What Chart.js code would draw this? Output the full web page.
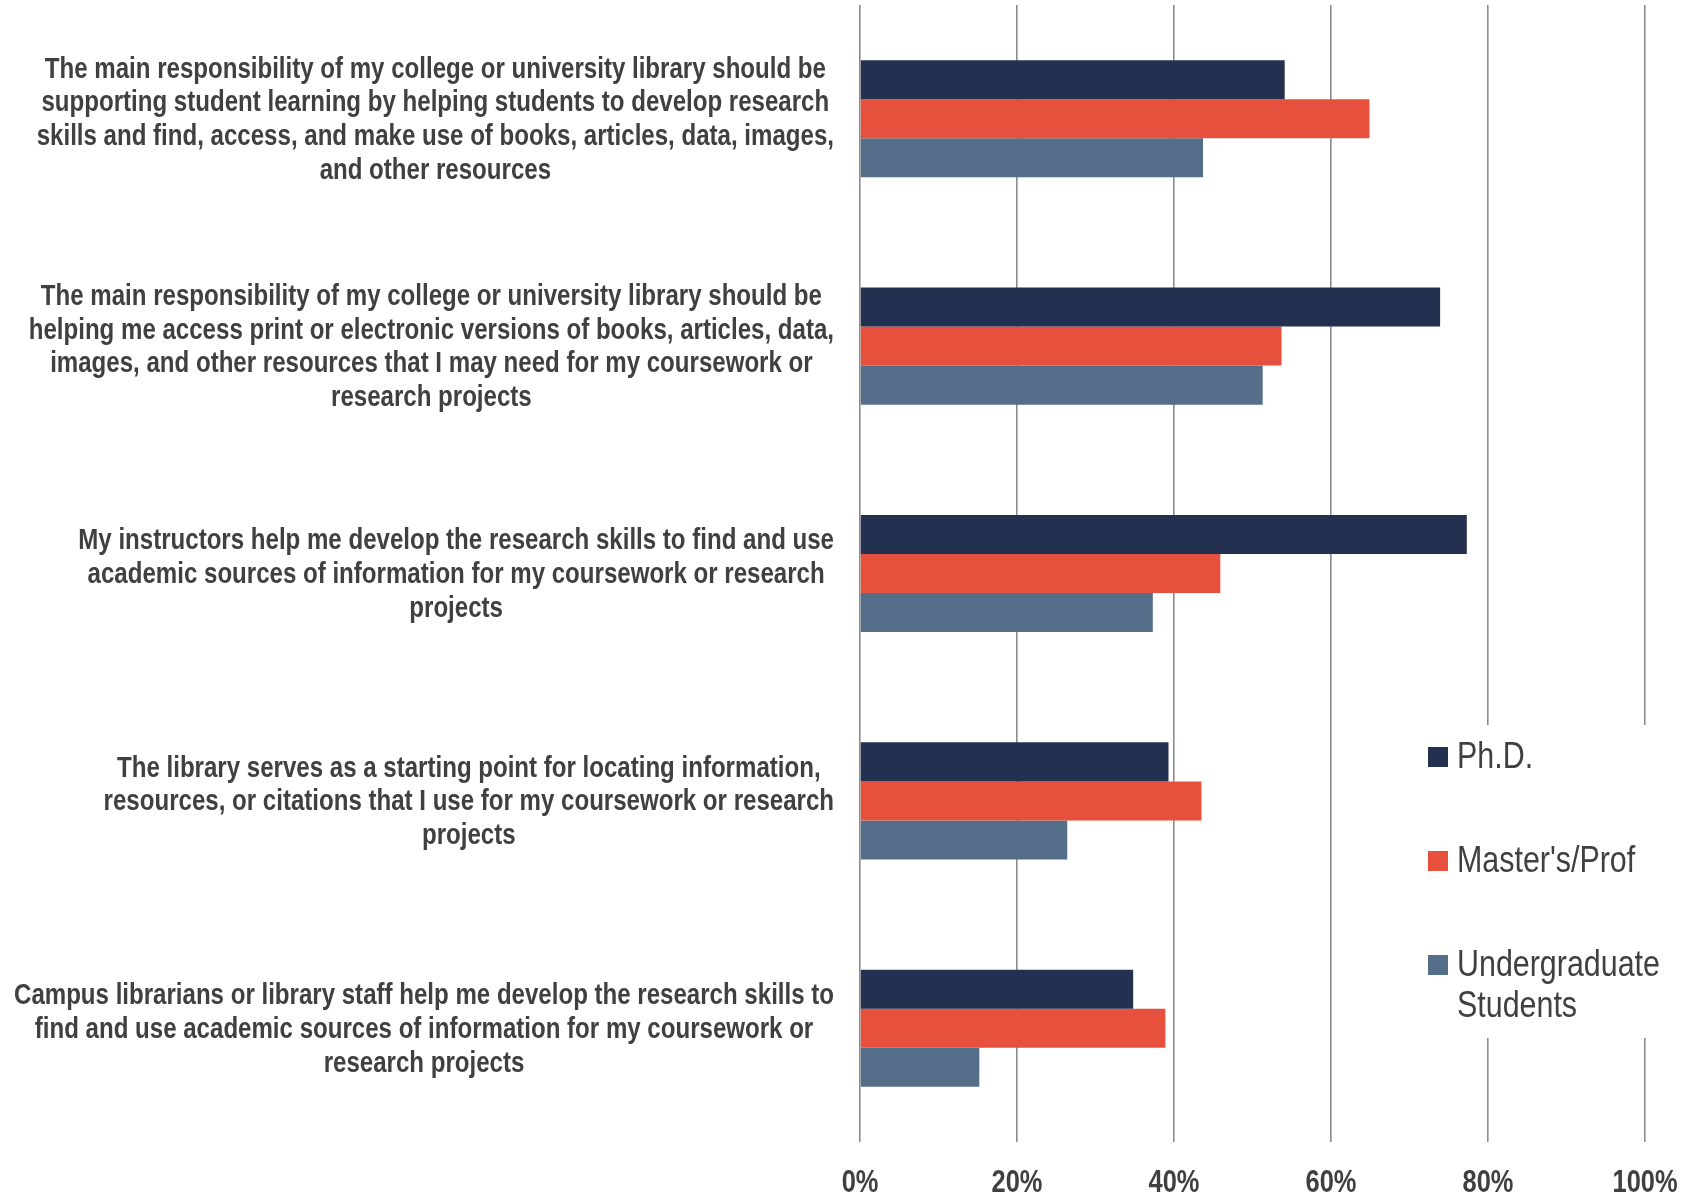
<!DOCTYPE html>
<html>
<head>
<meta charset="utf-8">
<script src="https://cdn.jsdelivr.net/npm/chart.js@4.4.1/dist/chart.umd.min.js"></script>
<style>
  html, body { margin: 0; padding: 0; background: #ffffff; }
  #wrap { width: 1703px; height: 1195px; position: relative; }
</style>
</head>
<body>
<div id="wrap"><canvas id="chart" width="1703" height="1195"></canvas></div>
<script>
// Survey statements (one array of wrapped lines per statement)
const categories = [
  ["The main responsibility of my college or university library should be",
   "supporting student learning by helping students to develop research",
   "skills and find, access, and make use of books, articles, data, images,",
   "and other resources"],
  ["The main responsibility of my college or university library should be",
   "helping me access print or electronic versions of books, articles, data,",
   "images, and other resources that I may need for my coursework or",
   "research projects"],
  ["My instructors help me develop the research skills to find and use",
   "academic sources of information for my coursework or research",
   "projects"],
  ["The library serves as a starting point for locating information,",
   "resources, or citations that I use for my coursework or research",
   "projects"],
  ["Campus librarians or library staff help me develop the research skills to",
   "find and use academic sources of information for my coursework or",
   "research projects"]
];

// Share of respondents agreeing, in percent
const phdValues       = [54.1, 73.9, 77.3, 39.3, 34.8];
const mastersValues   = [64.9, 53.7, 45.9, 43.5, 38.9];
const undergradValues = [43.7, 51.3, 37.3, 26.4, 15.2];

// Legend entries (lines as displayed)
const seriesNames = [["Ph.D."], ["Master's/Prof"], ["Undergraduate", "Students"]];

// Axis ticks
const xTickValues = [0, 20, 40, 60, 80, 100];
const xTickLabels = ["0%", "20%", "40%", "60%", "80%", "100%"];

// Narrow face: Liberation Sans squeezed horizontally
const SANS = "'Liberation Sans', Arial, sans-serif";
const TEXT = '#404040';
const colors = ['#23304f', '#e8503e', '#546e8a'];

function narrowText(ctx, text, x, y, squeeze) {
  ctx.save();
  ctx.translate(x, y);
  ctx.scale(squeeze, 1);
  ctx.fillText(text, 0, 0);
  ctx.restore();
}

// Statement labels: each block right-aligned against the axis, lines centred in the block
const categoryLabels = {
  id: 'categoryLabels',
  afterDraw(chart) {
    const { ctx, chartArea } = chart;
    const y = chart.scales.y;
    const lh = 33.7;
    const sq = 0.83;
    const right = chartArea.left - 26;
    ctx.save();
    ctx.font = 'bold 29px ' + SANS;
    ctx.fillStyle = TEXT;
    ctx.textAlign = 'center';
    ctx.textBaseline = 'middle';
    categories.forEach((lines, i) => {
      const cy = y.getPixelForValue(i) + 1.5;
      const maxW = Math.max(...lines.map(l => ctx.measureText(l).width)) * sq;
      const cx = right - maxW / 2;
      const y0 = cy - (lines.length - 1) / 2 * lh;
      lines.forEach((l, k) => narrowText(ctx, l, cx, y0 + k * lh, sq));
    });
    ctx.restore();
  }
};

// Percent labels under the value axis, placed at the axis tick positions
const xTickText = {
  id: 'xTickText',
  afterDraw(chart) {
    const { ctx } = chart;
    const x = chart.scales.x;
    ctx.save();
    ctx.font = 'bold 31px ' + SANS;
    ctx.fillStyle = TEXT;
    ctx.textAlign = 'center';
    ctx.textBaseline = 'alphabetic';
    x.ticks.forEach((t, i) => narrowText(ctx, xTickLabels[i], x.getPixelForTick(i), 1192, 0.82));
    ctx.restore();
  }
};

// Legend panel sitting over the right part of the plot
const legendPanel = {
  id: 'legendPanel',
  afterDraw(chart) {
    const { ctx } = chart;
    ctx.save();
    ctx.fillStyle = '#ffffff';
    ctx.fillRect(1420, 725, 250, 313);
    ctx.font = '36px ' + SANS;
    ctx.textAlign = 'left';
    ctx.textBaseline = 'alphabetic';
    chart.data.datasets.forEach((ds, i) => {
      const top = 747 + i * 104;
      ctx.fillStyle = ds.backgroundColor;
      ctx.fillRect(1428, top, 20, 20);
      ctx.fillStyle = TEXT;
      seriesNames[i].forEach((line, k) => narrowText(ctx, line, 1457, top + 21 + k * 41, 0.845));
    });
    ctx.restore();
  }
};

new Chart(document.getElementById('chart'), {
  type: 'bar',
  data: {
    labels: categories.map(c => c.join(' ')),
    datasets: [
      { label: seriesNames[0].join(' '), data: phdValues,       backgroundColor: colors[0] },
      { label: seriesNames[1].join(' '), data: mastersValues,   backgroundColor: colors[1] },
      { label: seriesNames[2].join(' '), data: undergradValues, backgroundColor: colors[2] }
    ]
  },
  options: {
    indexAxis: 'y',
    responsive: false,
    animation: false,
    devicePixelRatio: 1,
    layout: { padding: { left: 860, right: 58, top: 5, bottom: 53 } },
    datasets: { bar: { categoryPercentage: 0.515, barPercentage: 1.0 } },
    plugins: { legend: { display: false }, tooltip: { enabled: false } },
    scales: {
      y: { display: false },
      x: {
        min: 0, max: 100,
        afterBuildTicks(scale) { scale.ticks = xTickValues.map(v => ({ value: v })); },
        border: { display: false },
        grid: { color: '#8c8c8c', lineWidth: 1.6, drawTicks: false },
        ticks: { display: false }
      }
    }
  },
  plugins: [categoryLabels, xTickText, legendPanel]
});
</script>
</body>
</html>
